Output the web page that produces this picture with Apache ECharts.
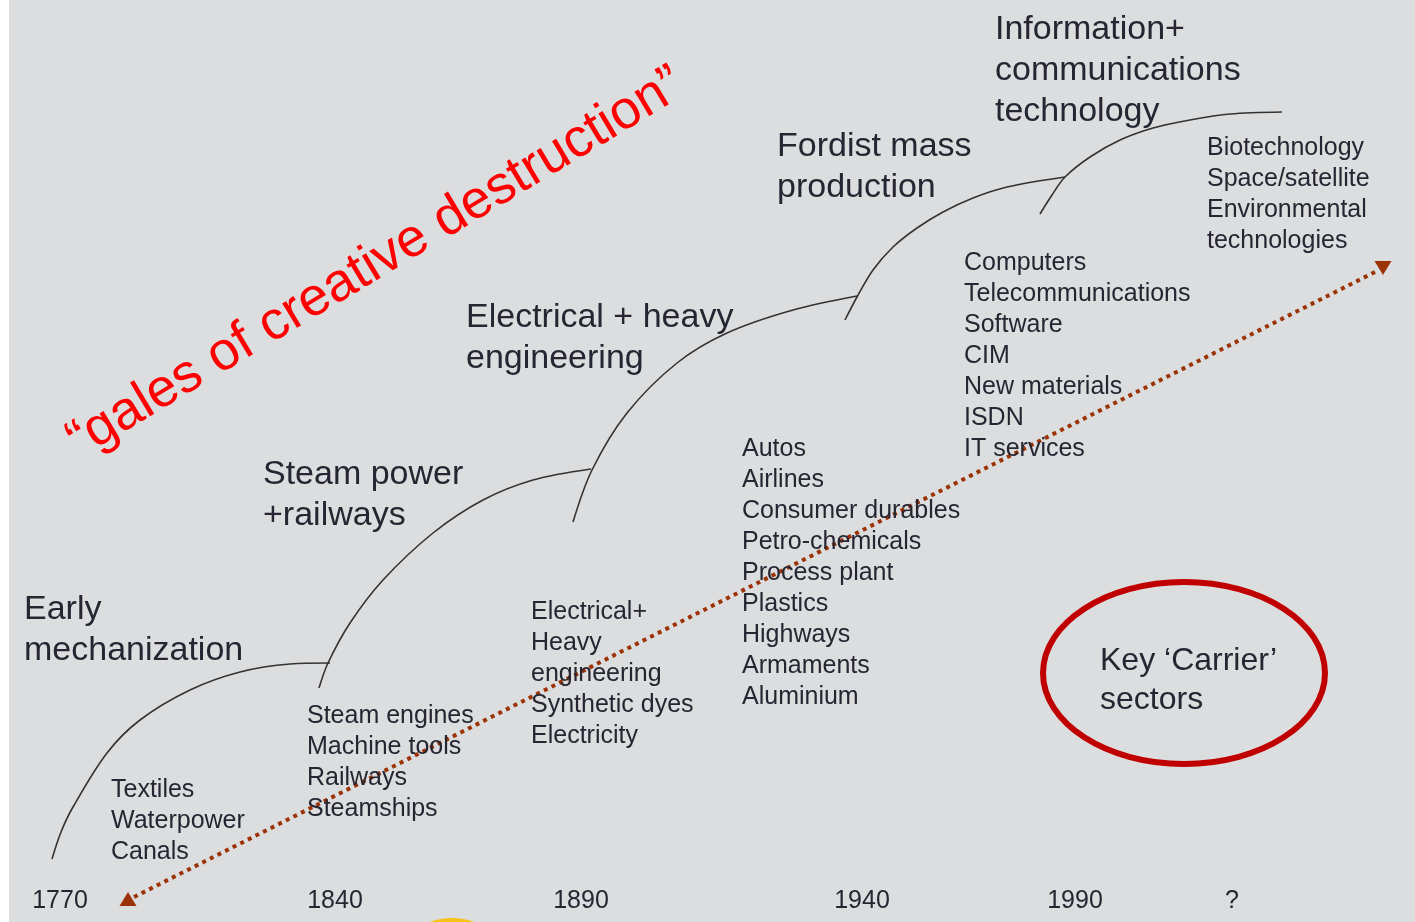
<!DOCTYPE html>
<html>
<head>
<meta charset="utf-8">
<script src="https://cdn.jsdelivr.net/npm/echarts@6/dist/echarts.min.js"></script>
<style>
html,body{margin:0;padding:0;background:#ffffff;}
#chart{width:1415px;height:922px;}
</style>
</head>
<body>
<div id="chart"></div>
<script>
// ---- Data (schematic units: x = time progression, y = position on the page scale, downward) ----
const tickPositions = [60, 335, 581, 862, 1075, 1232];
const tickLabels = ['1770', '1840', '1890', '1940', '1990', '?'];

// Five successive S-shaped waves (Kondratiev long waves)
const wave1 = [[52, 859], [61, 832], [73, 807], [107, 753], [140, 720], [190, 690], [240, 672], [290, 664], [330, 663]];
const wave2 = [[319, 688], [328, 663], [350, 623], [383, 580], [433, 533], [483, 500], [533, 480], [591, 469]];
const wave3 = [[573, 522], [592, 470], [627, 413], [677, 363], [727, 333], [793, 310], [857, 296]];
const wave4 = [[845, 320], [857, 297], [873, 270], [893, 247], [917, 228], [943, 212], [973, 198], [1007, 187], [1065, 177]];
const wave5 = [[1040, 214], [1052, 195], [1065, 177], [1090, 157], [1120, 140], [1153, 128], [1190, 120], [1230, 114], [1282, 112]];

const waveNames = [
  'Early\nmechanization',
  'Steam power\n+railways',
  'Electrical + heavy\nengineering',
  'Fordist mass\nproduction',
  'Information+\ncommunications\ntechnology'
];
const waveNamePos = [[24, 589], [263, 454], [466, 297], [777, 126], [995, 9]];

const carrierSectors = [
  'Textiles\nWaterpower\nCanals',
  'Steam engines\nMachine tools\nRailways\nSteamships',
  'Electrical+\nHeavy\nengineering\nSynthetic dyes\nElectricity',
  'Autos\nAirlines\nConsumer durables\nPetro-chemicals\nProcess plant\nPlastics\nHighways\nArmaments\nAluminium',
  'Computers\nTelecommunications\nSoftware\nCIM\nNew materials\nISDN\nIT services',
  'Biotechnology\nSpace/satellite\nEnvironmental\ntechnologies'
];
const carrierPos = [[111, 775], [307, 701], [531, 597], [742, 434], [964, 248], [1207, 133]];

const trendArrow = [[134, 897], [1379, 270]];
const arrowHeads = [[128, 899, 0], [1383, 268, 180]];

const galesText = '\u201cgales of creative destruction\u201d';
const galesPos = [376, 263];

const keyText = 'Key \u2018Carrier\u2019\nsectors';
const keyTextPos = [1100, 642];
const keyEllipse = [1184, 673, 141, 91];

const yellowMark = [452, 983];

// ---- Chart ----
const chart = echarts.init(document.getElementById('chart'), null, {renderer: 'canvas'});
const FONT = '"Liberation Sans", Arial, Helvetica, sans-serif';
const TEXT = '#262633';

function waveSeries(data) {
  return {
    type: 'line', data: data, smooth: 0.33, symbol: 'none',
    lineStyle: {color: '#333333', width: 1.6}, z: 3, silent: true
  };
}
function labelSeries(texts, positions, size, lh) {
  return {
    type: 'scatter', symbolSize: 0, silent: true, z: 5,
    itemStyle: {opacity: 1},
    data: texts.map((t, i) => ({value: positions[i], name: t})),
    label: {
      show: true, position: [0, 0], align: 'left', verticalAlign: 'top', opacity: 1,
      formatter: p => p.name, color: TEXT, fontFamily: FONT, fontSize: size, lineHeight: lh
    }
  };
}

const option = {
  backgroundColor: '#ffffff',
  animation: false,
  graphic: [{type: 'rect', left: 9, top: 0, shape: {width: 1406, height: 922}, style: {fill: '#dcdddf'}, z: -10, silent: true}],
  grid: {left: 0, right: 0, top: 0, bottom: 0},
  xAxis: {
    type: 'value', min: 0, max: 1415, offset: -33,
    axisLine: {show: false}, axisTick: {show: false}, splitLine: {show: false},
    axisLabel: {
      show: true, customValues: tickPositions, margin: 0, verticalAlign: 'top',
      color: TEXT, fontFamily: FONT, fontSize: 25,
      formatter: v => { const i = tickPositions.indexOf(v); return i >= 0 ? tickLabels[i] : ''; }
    }
  },
  yAxis: {type: 'value', min: 0, max: 922, inverse: true, show: false},
  series: [
    waveSeries(wave1), waveSeries(wave2), waveSeries(wave3), waveSeries(wave4), waveSeries(wave5),
    labelSeries(waveNames, waveNamePos, 34, 41),
    labelSeries(carrierSectors, carrierPos, 25, 31),
    {
      type: 'line', data: trendArrow, symbol: 'none', z: 4, silent: true,
      lineStyle: {color: '#9c3306', width: 4, type: [4, 4.5], cap: 'butt'}
    },
    {
      type: 'scatter', symbol: 'triangle', symbolSize: [17, 14], z: 4, silent: true,
      data: arrowHeads.map(a => ({value: [a[0], a[1]], symbolRotate: a[2]})),
      itemStyle: {color: '#9c3306', opacity: 1}
    },
    {
      type: 'scatter', symbolSize: 0, silent: true, z: 6,
      itemStyle: {opacity: 1},
      data: [{value: galesPos, name: galesText}],
      label: {
        show: true, position: 'inside', rotate: 31, align: 'center', verticalAlign: 'middle',
        formatter: p => p.name, color: '#ff0000', fontFamily: FONT, fontSize: 54
      }
    },
    {
      type: 'custom', silent: true, z: 5,
      data: [keyEllipse],
      renderItem: (params, api) => {
        const c = api.coord([api.value(0), api.value(1)]);
        const s = api.size([api.value(2), api.value(3)]);
        return {type: 'ellipse', shape: {cx: c[0], cy: c[1], rx: s[0], ry: s[1]},
                style: {fill: 'none', stroke: '#c00000', lineWidth: 6}};
      }
    },
    labelSeries([keyText], [keyTextPos], 32, 39),
    {
      type: 'scatter', symbol: 'circle', symbolSize: 130, clip: false, silent: true, z: 1,
      data: [yellowMark], itemStyle: {color: '#f6c21a', opacity: 1}
    }
  ]
};
chart.setOption(option);
</script>
</body>
</html>
